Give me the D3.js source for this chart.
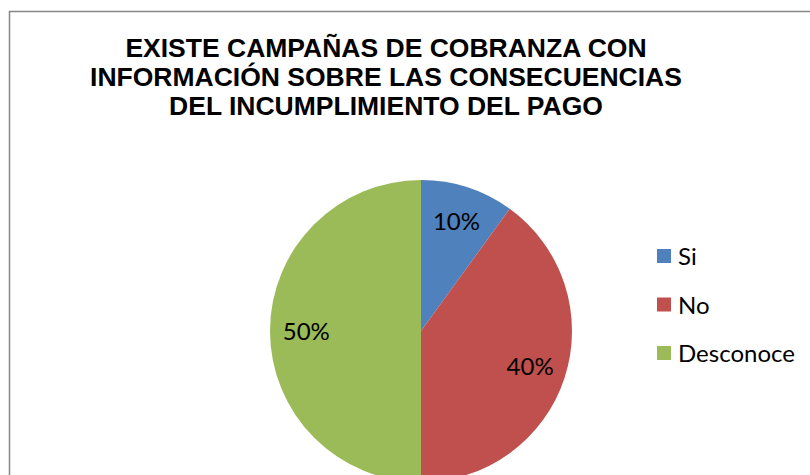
<!DOCTYPE html>
<html>
<head>
<meta charset="utf-8">
<script src="https://cdn.jsdelivr.net/npm/d3@7"></script>
<style>
  html, body { margin: 0; padding: 0; background: #fff; overflow: hidden; }
</style>
</head>
<body>
<svg id="chart" width="810" height="475"></svg>
<script>
const titleLines = [
  "EXISTE CAMPAÑAS DE COBRANZA CON",
  "INFORMACIÓN SOBRE LAS CONSECUENCIAS",
  "DEL INCUMPLIMIENTO DEL PAGO"
];
const categories = ["Si", "No", "Desconoce"];
const values = [10, 40, 50];
const colors = ["#4F81BD", "#C0504D", "#9BBB59"];

const svg = d3.select("#chart");

// chart frame, runs off the right and bottom like the original crop
svg.append("rect")
    .attr("x", 9.5).attr("y", 11.5)
    .attr("width", 830).attr("height", 500)
    .attr("fill", "#fff")
    .attr("stroke", "#868686")
    .attr("stroke-width", 1.5);

svg.append("g")
    .attr("font-family", "Arial, 'Liberation Sans', sans-serif")
    .attr("font-weight", "bold")
    .attr("font-size", 26.5)
    .attr("text-anchor", "middle")
  .selectAll("text")
  .data(titleLines)
  .join("text")
    .attr("x", 386)
    .attr("y", (d, i) => 57 + i * 29)
    .text(d => d);

const cx = 421, cy = 331, r = 151;
const data = categories.map((c, i) => ({ name: c, value: values[i] }));

const pie = d3.pie().sort(null).value(d => d.value);
const arc = d3.arc().innerRadius(0).outerRadius(r);
const labelArc = d3.arc().innerRadius(r * 0.76).outerRadius(r * 0.76);
const color = d3.scaleOrdinal().domain(categories).range(colors);

const g = svg.append("g").attr("transform", `translate(${cx},${cy})`);
const arcs = pie(data);

g.selectAll("path")
  .data(arcs)
  .join("path")
    .attr("d", arc)
    .attr("fill", d => color(d.data.name));

const total = d3.sum(values);
g.selectAll("text")
  .data(arcs)
  .join("text")
    .attr("transform", d => `translate(${labelArc.centroid(d)})`)
    .attr("dy", "0.36em")
    .attr("text-anchor", "middle")
    .attr("font-family", "Lato, 'Open Sans', sans-serif")
    .attr("font-size", 24)
    .attr("fill", "#000")
    .text(d => Math.round(d.data.value / total * 100) + "%");

// legend
const legend = svg.append("g").attr("transform", "translate(657,249)");
const item = legend.selectAll("g")
  .data(categories)
  .join("g")
    .attr("transform", (d, i) => `translate(0,${i * 48.5})`);

item.append("rect")
    .attr("width", 14).attr("height", 14)
    .attr("fill", d => color(d));

item.append("text")
    .attr("x", 21)
    .attr("y", 16)
    .attr("font-family", "Lato, 'Open Sans', sans-serif")
    .attr("font-size", 24)
    .attr("fill", "#000")
    .text(d => d);
</script>
</body>
</html>
